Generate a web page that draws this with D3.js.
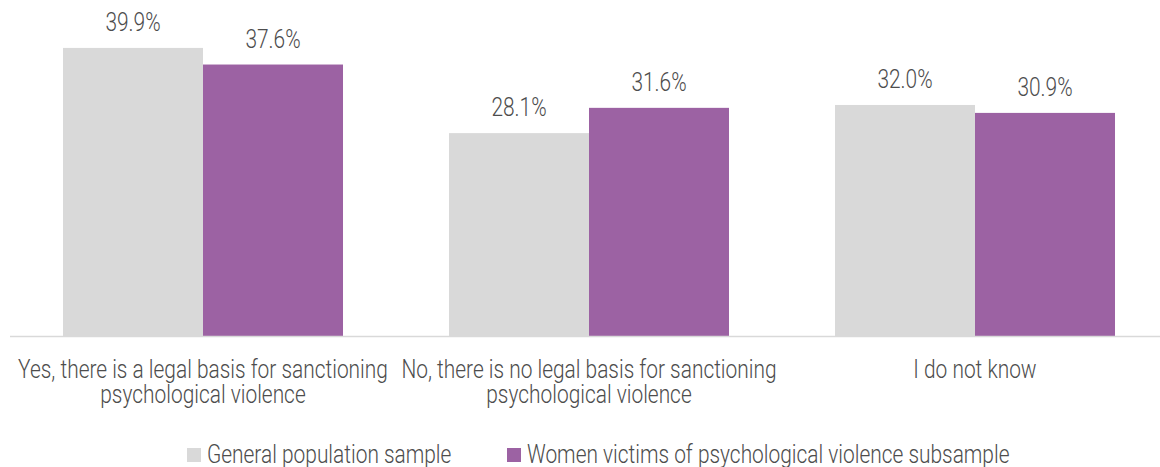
<!DOCTYPE html>
<html>
<head>
<meta charset="utf-8">
<script src="https://cdn.jsdelivr.net/npm/d3@7"></script>
<style>
  html, body { margin: 0; padding: 0; background: #fff; }
  svg { display: block; }
  text { font-family: "Roboto", "Liberation Sans", sans-serif; font-weight: 300; fill: #4d4d4d; font-size: 25px; }
</style>
</head>
<body>
<svg id="chart" width="1160" height="467"></svg>
<script>
// Survey answers about the legal basis for sanctioning psychological violence
const categories = [
  "Yes, there is a legal basis for sanctioning psychological violence",
  "No, there is no legal basis for sanctioning psychological violence",
  "I do not know"
];
const seriesNames = [
  "General population sample",
  "Women victims of psychological violence subsample"
];
const generalSample = [39.9, 28.1, 32.0];
const womenSubsample = [37.6, 31.6, 30.9];
const seriesColors = ["#d9d9d9", "#9c62a3"];

const svg = d3.select("#chart");
const W = 1160;

// Condensed look: measure a sample line and derive a horizontal squeeze factor
const probe = svg.append("text").text("Yes, there is a legal basis for sanctioning");
const sx = 370 / probe.node().getComputedTextLength();
probe.remove();

// place a text element at (px, py) with horizontal squeeze applied
function squeezed(sel, px, py) {
  sel.attr("transform", `scale(${sx},1)`)
     .attr("x", px / sx)
     .attr("y", py);
  return sel;
}

const x = d3.scaleBand()
  .domain(categories)
  .range([10, 1168])
  .paddingInner(0.2746)
  .paddingOuter(0.1373);

const xs = d3.scaleBand()
  .domain(seriesNames)
  .range([0, x.bandwidth()]);

const y = d3.scaleLinear().domain([0, 40]).range([336, 47.2]);

const rows = categories.map((c, i) => ({
  cat: c,
  values: [generalSample[i], womenSubsample[i]]
}));

const bars = rows.flatMap(r => r.values.map((v, j) => ({
  cat: r.cat, name: seriesNames[j], v, j
})));

svg.selectAll("rect.bar")
  .data(bars)
  .join("rect")
  .attr("class", "bar")
  .attr("x", d => x(d.cat) + xs(d.name))
  .attr("y", d => y(d.v))
  .attr("width", xs.bandwidth())
  .attr("height", d => y(0) - y(d.v))
  .attr("fill", d => seriesColors[d.j]);

svg.selectAll("text.val")
  .data(bars)
  .join("text")
  .attr("class", "val")
  .attr("text-anchor", "middle")
  .text(d => d.v.toFixed(1) + "%")
  .each(function(d) {
    squeezed(d3.select(this), x(d.cat) + xs(d.name) + xs.bandwidth() / 2, y(d.v) - 17);
  });

// baseline
svg.append("line")
  .attr("x1", 10).attr("x2", W)
  .attr("y1", y(0) + 0.5).attr("y2", y(0) + 0.5)
  .attr("stroke", "#d9d9d9")
  .attr("stroke-width", 1.5);

// category labels, wrapped to the band step
svg.selectAll("text.cat")
  .data(categories)
  .join("text")
  .attr("class", "cat")
  .attr("text-anchor", "middle")
  .each(function(d) {
    const t = squeezed(d3.select(this), x(d) + x.bandwidth() / 2, 378);
    const tx = t.attr("x");
    const maxW = x.step() - 4;
    let line = [];
    let tspan = t.append("tspan").attr("x", tx).attr("dy", 0);
    for (const w of d.split(" ")) {
      line.push(w);
      tspan.text(line.join(" "));
      if (tspan.node().getComputedTextLength() * sx > maxW && line.length > 1) {
        line.pop();
        tspan.text(line.join(" "));
        line = [w];
        tspan = t.append("tspan").attr("x", tx).attr("dy", 25.5).text(w);
      }
    }
  });

// legend
const legendX = [187, 507];
const legend = svg.selectAll("g.legend")
  .data(seriesNames)
  .join("g")
  .attr("class", "legend")
  .attr("transform", (d, i) => `translate(${legendX[i]},448)`);
legend.append("rect")
  .attr("width", 14).attr("height", 14)
  .attr("fill", (d, i) => seriesColors[i]);
legend.append("text")
  .text(d => d)
  .each(function() { squeezed(d3.select(this), 20, 14.5); });
</script>
</body>
</html>
